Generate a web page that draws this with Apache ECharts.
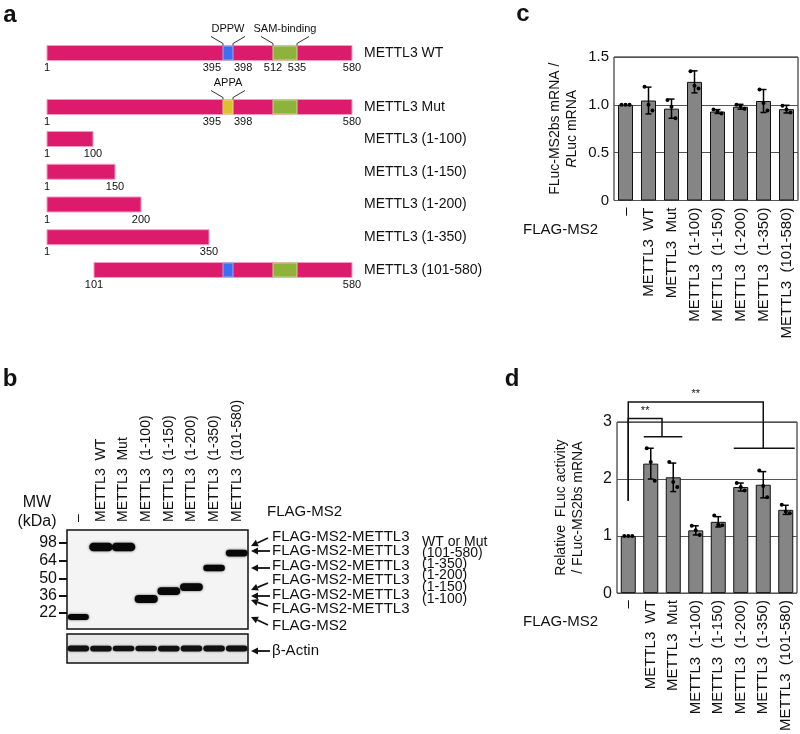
<!DOCTYPE html>
<html>
<head>
<meta charset="utf-8">
<script src="https://cdn.jsdelivr.net/npm/echarts@6/dist/echarts.min.js"></script>
<style>
  html, body { margin: 0; padding: 0; background: #fff; }
  #chart { width: 800px; height: 734px; }
</style>
</head>
<body>
<div id="chart"></div>
<script>
const FONT = '"Liberation Sans", Arial, sans-serif';

// ---- panel a: METTL3 constructs ----
const constructNames = ['METTL3 WT', 'METTL3 Mut', 'METTL3 (1-100)', 'METTL3 (1-150)', 'METTL3 (1-200)', 'METTL3 (1-350)', 'METTL3 (101-580)'];
const constructStart = [1, 1, 1, 1, 1, 1, 101];
const constructEnd = [580, 580, 100, 150, 200, 350, 580];
// the diagram is not to scale: where each residue number sits along the drawn bar
const residueMarks = [1, 100, 101, 150, 200, 350, 395, 398, 512, 535, 580];
const residueDrawn = [0, 46, 47, 68, 94, 162, 176, 186, 226, 250, 305];
const motifRange = [395, 398];
const samRange = [512, 535];

// ---- panel b: western blot ----
const laneLabels = ['–', 'METTL3  WT', 'METTL3  Mut', 'METTL3  (1-100)', 'METTL3  (1-150)', 'METTL3  (1-200)', 'METTL3  (1-350)', 'METTL3  (101-580)'];
const mwLabels = [98, 64, 50, 36, 22];
const mwMigration = [13, 31, 49, 66, 83];          // distance run down the gel, 0..99
const bandMigration = [87, 17, 17, 69, 61, 57, 38, 23];
const bandStrength = [0.5, 1, 1, 0.9, 0.85, 0.85, 0.6, 0.65];
const actinStrength = [0.8, 0.75, 0.7, 0.7, 0.75, 0.8, 0.8, 0.8];

// ---- panel c: FLuc-MS2bs mRNA / RLuc mRNA ----
const mrnaMean = [1.0, 1.045, 0.96, 1.24, 0.93, 0.98, 1.04, 0.955];
const mrnaSd = [0, 0.14, 0.1, 0.115, 0.02, 0.025, 0.12, 0.04];
const mrnaReps = [[1, 1, 1], [1.19, 1.0, 0.94], [1.05, 0.98, 0.86], [1.35, 1.2, 1.17], [0.95, 0.93, 0.91], [1.0, 0.99, 0.96], [1.16, 1.02, 0.94], [0.99, 0.95, 0.92]];

// ---- panel d: relative FLuc activity ----
const actMean = [1.0, 2.27, 2.03, 1.1, 1.25, 1.86, 1.9, 1.46];
const actSd = [0, 0.27, 0.25, 0.08, 0.09, 0.07, 0.23, 0.08];
const actReps = [[1, 1, 1], [2.54, 2.3, 1.97], [2.3, 1.95, 1.86], [1.18, 1.1, 1.02], [1.36, 1.2, 1.19], [1.93, 1.86, 1.8], [2.15, 1.88, 1.68], [1.55, 1.43, 1.4]];

// significance brackets: control lane vs a group of lanes
const sigRef = [0, 0];
const sigGroupFrom = [1, 5];
const sigGroupTo = [2, 7];
const sigTop = [3.06, 3.35];
const sigGroupLevel = [2.74, 2.54];
const sigDrop = 1.62;
const sigText = ['**', '**'];

const chart = echarts.init(document.getElementById('chart'));

function drawnAt(res) {
  return residueDrawn[residueMarks.indexOf(res)];
}

function txt(text, x, y, size, align, weight) {
  return {
    type: 'text',
    style: {
      text: text, x: x, y: y, fill: '#111',
      font: (weight ? weight + ' ' : '') + size + 'px ' + FONT,
      align: align || 'center', verticalAlign: 'middle'
    }
  };
}

function leader(xEdge, top, dir) {
  return {
    type: 'polyline',
    shape: { points: [[xEdge, top], [xEdge, top - 2], [xEdge + dir * 12, top - 9]] },
    style: { stroke: '#333', lineWidth: 1, fill: null }
  };
}

function renderConstruct(params, api) {
  const k = api.value(0);
  const row = api.value(1);
  const h = 15;
  const p0 = api.coord([drawnAt(constructStart[k]), row]);
  const p1 = api.coord([drawnAt(constructEnd[k]), row]);
  const yc = p0[1], top = yc - h / 2;
  const kids = [{
    type: 'rect',
    shape: { x: p0[0], y: top, width: p1[0] - p0[0], height: h },
    style: { fill: '#dc1b6d', stroke: '#f29cc2', lineWidth: 1 }
  }];
  const covers = (r) => constructStart[k] <= r[0] && constructEnd[k] >= r[1];
  let mx0, mx1, sx0, sx1;
  if (covers(motifRange)) {
    mx0 = api.coord([drawnAt(motifRange[0]), row])[0];
    mx1 = api.coord([drawnAt(motifRange[1]), row])[0];
    kids.push({
      type: 'rect', shape: { x: mx0, y: top + 0.5, width: mx1 - mx0, height: h - 1 },
      style: { fill: k === 1 ? '#d9c12f' : '#3f6ff0', stroke: k === 1 ? '#eadb7a' : '#8fb0f7', lineWidth: 1 }
    });
  }
  if (covers(samRange)) {
    sx0 = api.coord([drawnAt(samRange[0]), row])[0];
    sx1 = api.coord([drawnAt(samRange[1]), row])[0];
    kids.push({
      type: 'rect', shape: { x: sx0, y: top + 0.5, width: sx1 - sx0, height: h - 1 },
      style: { fill: '#8db33c', stroke: '#c2d98a', lineWidth: 1 }
    });
  }
  const ny = yc + 15;
  kids.push(txt(String(constructStart[k]), p0[0], ny, 11));
  kids.push(txt(String(constructEnd[k]), p1[0], ny, 11));
  if (k <= 1) {
    kids.push(txt(String(motifRange[0]), mx0 - 2, ny, 11, 'right'));
    kids.push(txt(String(motifRange[1]), mx1 + 1, ny, 11, 'left'));
    kids.push(leader(mx0, top, -1), leader(mx1, top, 1));
    kids.push(txt(k === 0 ? 'DPPW' : 'APPA', (mx0 + mx1) / 2, top - 17, 11));
  }
  if (k === 0) {
    kids.push(txt(String(samRange[0]), sx0, ny, 11));
    kids.push(txt(String(samRange[1]), sx1, ny, 11));
    kids.push(leader(sx0, top, -1), leader(sx1, top, 1));
    kids.push(txt('SAM-binding', (sx0 + sx1) / 2, top - 17, 11));
  }
  return { type: 'group', children: kids };
}

function renderBand(params, api) {
  const i = params.dataIndex;
  const p = api.coord([i, bandMigration[i]]);
  const s = bandStrength[i];
  const w = api.size([1, 0])[0] * (0.82 + 0.22 * s);
  const h = 3.5 + 5 * s;
  return {
    type: 'rect',
    shape: { x: p[0] - w / 2, y: p[1] - h / 2, width: w, height: h, r: h / 2 },
    style: { fill: '#080808', shadowBlur: 2.5, shadowColor: 'rgba(0,0,0,0.65)' }
  };
}

function renderActin(params, api) {
  const i = params.dataIndex;
  const p = api.coord([i, 0.5]);
  const w = api.size([1, 0])[0] * 0.95;
  const h = 3.5 + 3 * actinStrength[i];
  return {
    type: 'rect',
    shape: { x: p[0] - w / 2, y: p[1] - h / 2, width: w, height: h, r: h / 2 },
    style: { fill: '#111', shadowBlur: 2, shadowColor: 'rgba(0,0,0,0.5)' }
  };
}

function errorRenderer(means, sds, reps) {
  return function (params, api) {
    const i = params.dataIndex;
    const m = means[i], s = sds[i];
    const pt = api.coord([i, m + s]);
    const pb = api.coord([i, m - s]);
    const x = pt[0];
    const kids = [];
    if (s > 0) {
      kids.push({ type: 'line', shape: { x1: x, y1: pt[1], x2: x, y2: pb[1] }, style: { stroke: '#000', lineWidth: 1.5 } });
      kids.push({ type: 'line', shape: { x1: x - 3, y1: pt[1], x2: x + 3, y2: pt[1] }, style: { stroke: '#000', lineWidth: 1.5 } });
      kids.push({ type: 'line', shape: { x1: x - 3, y1: pb[1], x2: x + 3, y2: pb[1] }, style: { stroke: '#000', lineWidth: 1.5 } });
    }
    reps[i].forEach(function (v, j) {
      const pv = api.coord([i, v]);
      kids.push({ type: 'circle', shape: { cx: x + (j - 1) * 4, cy: pv[1], r: 2 }, style: { fill: '#000' } });
    });
    return { type: 'group', children: kids };
  };
}

function renderBracket(params, api) {
  const k = params.dataIndex;
  const pl = api.coord([sigRef[k], sigTop[k]]);
  const xa = api.coord([sigGroupFrom[k], 0])[0];
  const xb = api.coord([sigGroupTo[k], 0])[0];
  const xr = (xa + xb) / 2;
  const yg = api.coord([0, sigGroupLevel[k]])[1];
  const yd = api.coord([0, sigDrop])[1];
  const st = { stroke: '#111', lineWidth: 1.5, fill: null };
  return {
    type: 'group',
    children: [
      { type: 'polyline', shape: { points: [[pl[0], yd], [pl[0], pl[1]], [xr, pl[1]], [xr, yg]] }, style: st },
      { type: 'line', shape: { x1: xa - 7, y1: yg, x2: xb + 9, y2: yg }, style: st },
      txt(sigText[k], (pl[0] + xr) / 2, pl[1] - 8, 11)
    ]
  };
}

function arrow(x1, y1, x2, y2) {
  const ang = Math.atan2(y2 - y1, x2 - x1);
  const L = 7, W = 3.5;
  const bx = x2 - L * Math.cos(ang), by = y2 - L * Math.sin(ang);
  return [
    { type: 'line', shape: { x1: x1, y1: y1, x2: bx, y2: by }, style: { stroke: '#111', lineWidth: 1.8 } },
    { type: 'polygon', shape: { points: [[x2, y2], [bx - W * Math.sin(ang), by + W * Math.cos(ang)], [bx + W * Math.sin(ang), by - W * Math.cos(ang)]] }, style: { fill: '#111' } }
  ];
}

const barAxisLabel = { rotate: 90, fontSize: 15, fontFamily: FONT, color: '#111', margin: 7, interval: 0 };
const valueLabel = { fontSize: 15, fontFamily: FONT, color: '#111', margin: 5 };

// right hand labels of the blot
const blotRows = ['FLAG-MS2-METTL3', 'FLAG-MS2-METTL3', 'FLAG-MS2-METTL3', 'FLAG-MS2-METTL3', 'FLAG-MS2-METTL3', 'FLAG-MS2-METTL3', 'FLAG-MS2'];
const blotRowY = [537, 551, 566, 580, 595, 609, 626];
const blotSuffix = ['WT or Mut', '(101-580)', '(1-350)', '(1-200)', '(1-150)', '(1-100)'];
const blotSuffixY = [542, 553, 564, 575, 587, 599];
const blotArrows = [[268, 538, 251, 546], [270, 551, 251, 551], [270, 568, 251, 568], [268, 583, 251, 590], [270, 596, 251, 596], [268, 606, 251, 600], [268, 625, 251, 617], [270, 651, 251, 651]];

const graphics = [
  txt('a', 10, 15, 24, 'center', 'bold'),
  txt('b', 10, 379, 24, 'center', 'bold'),
  txt('c', 523, 14, 24, 'center', 'bold'),
  txt('d', 512, 379, 24, 'center', 'bold'),
  txt('MW', 37, 503, 16),
  txt('(kDa)', 37, 522, 16),
  txt('FLAG-MS2', 267, 512, 15, 'left'),
  txt('FLAG-MS2', 523, 230, 15, 'left'),
  txt('FLAG-MS2', 523, 622, 15, 'left'),
  txt('β-Actin', 272, 651, 15, 'left')
];
blotRows.forEach((t, i) => graphics.push(txt(t, 272, blotRowY[i], 15, 'left')));
blotSuffix.forEach((t, i) => graphics.push(txt(t, 422, blotSuffixY[i], 14, 'left')));
blotArrows.forEach((a) => arrow(a[0], a[1], a[2], a[3]).forEach((g) => graphics.push(g)));

const option = {
  animation: false,
  backgroundColor: '#fff',
  textStyle: { fontFamily: FONT },
  grid: [
    { left: 47, width: 305, top: 26, height: 108 },
    { left: 47, width: 305, top: 122.6, height: 163.75 },
    { left: 67, width: 181, top: 530, height: 99, show: true, borderColor: '#111', borderWidth: 1.5, backgroundColor: '#f4f4f4' },
    { left: 67, width: 181, top: 634, height: 29, show: true, borderColor: '#111', borderWidth: 1.5, backgroundColor: '#e8e8e8' },
    { left: 614, right: 2, top: 57, height: 143.5, show: true, borderColor: '#111', borderWidth: 1 },
    { left: 617, right: 3, top: 422, height: 174, show: true, borderColor: '#111', borderWidth: 1 }
  ],
  xAxis: [
    { gridIndex: 0, type: 'value', min: 0, max: 305, show: false },
    { gridIndex: 1, type: 'value', min: 0, max: 305, show: false },
    {
      gridIndex: 2, type: 'category', data: laneLabels, position: 'top',
      axisLine: { show: false }, axisTick: { show: false },
      axisLabel: { rotate: 90, fontSize: 14, fontFamily: FONT, color: '#111', margin: 8, interval: 0 }
    },
    { gridIndex: 3, type: 'category', data: laneLabels, show: false },
    { gridIndex: 4, type: 'category', data: laneLabels, axisLine: { show: false }, axisTick: { show: false }, axisLabel: barAxisLabel },
    { gridIndex: 5, type: 'category', data: laneLabels, axisLine: { show: false }, axisTick: { show: false }, axisLabel: barAxisLabel }
  ],
  yAxis: [
    {
      gridIndex: 0, type: 'category', data: constructNames.slice(0, 2), inverse: true, position: 'right',
      axisLine: { show: false }, axisTick: { show: false },
      axisLabel: { fontSize: 14, fontFamily: FONT, color: '#111', margin: 12 }
    },
    {
      gridIndex: 1, type: 'category', data: constructNames.slice(2), inverse: true, position: 'right',
      axisLine: { show: false }, axisTick: { show: false },
      axisLabel: { fontSize: 14, fontFamily: FONT, color: '#111', margin: 12 }
    },
    {
      gridIndex: 2, type: 'value', min: 0, max: 99, inverse: true,
      axisLine: { show: false }, splitLine: { show: false },
      axisTick: { show: true, customValues: mwMigration, length: 8, lineStyle: { color: '#111', width: 2 } },
      axisLabel: {
        customValues: mwMigration, margin: 10, fontSize: 16, fontFamily: FONT, color: '#111',
        formatter: (v) => String(mwLabels[mwMigration.indexOf(v)])
      }
    },
    { gridIndex: 3, type: 'value', min: 0, max: 1, show: false },
    {
      gridIndex: 4, type: 'value', min: 0, max: 1.5, interval: 0.5,
      axisLine: { show: false }, axisTick: { show: false },
      splitLine: { lineStyle: { color: '#555', width: 1 } },
      axisLabel: Object.assign({}, valueLabel, { formatter: (v) => (v === 0 ? '0' : v.toFixed(1)) }),
      name: 'FLuc-MS2bs mRNA /\n{it|R}Luc mRNA', nameLocation: 'middle', nameRotate: 90, nameGap: 33,
      nameTextStyle: { fontSize: 14, fontFamily: FONT, color: '#111', lineHeight: 17, rich: { it: { fontStyle: 'italic', fontSize: 14, fontFamily: FONT, color: '#111' } } }
    },
    {
      gridIndex: 5, type: 'value', min: 0, max: 3, interval: 1,
      axisLine: { show: false }, axisTick: { show: false },
      splitLine: { lineStyle: { color: '#555', width: 1 } },
      axisLabel: Object.assign({}, valueLabel, { fontSize: 16 }),
      name: 'Relative  FLuc activity\n/ FLuc-MS2bs mRNA', nameLocation: 'middle', nameRotate: 90, nameGap: 30,
      nameTextStyle: { fontSize: 14, fontFamily: FONT, color: '#111', lineHeight: 17 }
    }
  ],
  series: [
    { type: 'custom', xAxisIndex: 0, yAxisIndex: 0, data: [[0, 0], [1, 1]], renderItem: renderConstruct, silent: true },
    { type: 'custom', xAxisIndex: 1, yAxisIndex: 1, data: [[2, 0], [3, 1], [4, 2], [5, 3], [6, 4]], renderItem: renderConstruct, silent: true },
    { type: 'custom', xAxisIndex: 2, yAxisIndex: 2, data: bandMigration.map((v, i) => [i, v]), renderItem: renderBand, silent: true },
    { type: 'custom', xAxisIndex: 3, yAxisIndex: 3, data: actinStrength.map((v, i) => [i, 0.5]), renderItem: renderActin, silent: true },
    {
      type: 'bar', xAxisIndex: 4, yAxisIndex: 4, data: mrnaMean, barWidth: 15, silent: true,
      itemStyle: { color: '#858585', borderColor: '#111', borderWidth: 1 }
    },
    { type: 'custom', xAxisIndex: 4, yAxisIndex: 4, data: mrnaMean.map((v, i) => [i, v]), renderItem: errorRenderer(mrnaMean, mrnaSd, mrnaReps), silent: true, z: 5 },
    {
      type: 'bar', xAxisIndex: 5, yAxisIndex: 5, data: actMean, barWidth: 15, silent: true,
      itemStyle: { color: '#858585', borderColor: '#111', borderWidth: 1 }
    },
    { type: 'custom', xAxisIndex: 5, yAxisIndex: 5, data: actMean.map((v, i) => [i, v]), renderItem: errorRenderer(actMean, actSd, actReps), silent: true, z: 5 },
    { type: 'custom', xAxisIndex: 5, yAxisIndex: 5, data: sigTop.map((v, i) => [i, v]), renderItem: renderBracket, clip: false, silent: true, z: 6 }
  ],
  graphic: graphics
};

chart.setOption(option);
</script>
</body>
</html>
